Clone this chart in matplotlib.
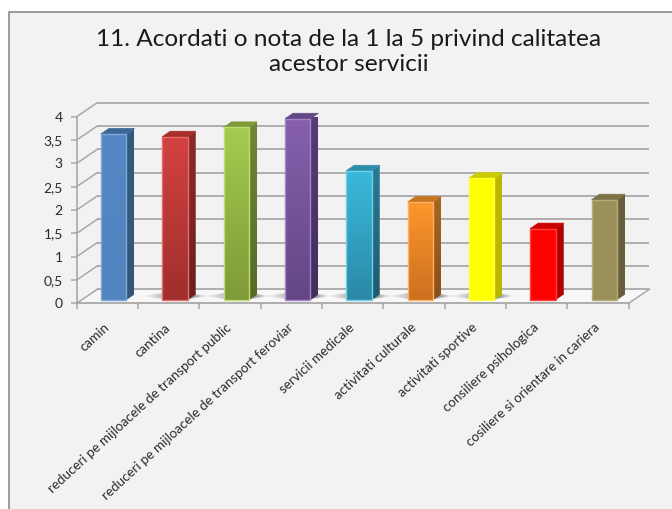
import numpy as np
import matplotlib
matplotlib.use("Agg")
import matplotlib.pyplot as plt
from matplotlib.colors import LinearSegmentedColormap
from matplotlib.patches import Polygon, Rectangle
from matplotlib.transforms import Affine2D

categories = ["camin", "cantina", "reduceri pe mijloacele de transport public",
              "reduceri pe mijloacele de transport feroviar", "servicii medicale",
              "activitati culturale", "activitati sportive", "consiliere psihologica",
              "cosiliere si orientare in cariera"]
values = [3.56, 3.50, 3.70, 3.885, 2.77, 2.10, 2.61, 1.53, 2.15]
y_ticks = [0, 0.5, 1, 1.5, 2, 2.5, 3, 3.5, 4]
y_labels = ["0", "0,5", "1", "1,5", "2", "2,5", "3", "3,5", "4"]
title = "11. Acordati o nota de la 1 la 5 privind calitatea\nacestor servicii"

front_top = ["#5687c4", "#d34241", "#a4cb4e", "#8660ad", "#3bb9dc", "#fc972d", "#ffff00", "#ff0000", "#9a9059"]
front_bot = ["#5283bf", "#9f2f2d", "#7f9a38", "#644685", "#2b89a6", "#cd7020", "#ffff00", "#ff0000", "#9a9059"]
side_top = ["#35597f", "#8c2b29", "#6f8736", "#563d76", "#287b95", "#a96520", "#b8b800", "#b30000", "#665f3c"]
side_bot = ["#345678", "#6c1f1d", "#566a26", "#422e5e", "#1f5b70", "#8a5016", "#b8b800", "#b30000", "#665f3c"]
top_col = ["#3d6796", "#a62f2d", "#7f9a38", "#644785", "#2d8ea9", "#c8731f", "#cccc00", "#cc0000", "#7b7347"]
edge_col = ["#7ea6d8", "#e46c6a", "#bddc73", "#a584c8", "#6fd0e8", "#ffb066", "#ffff40", "#ff4040", "#b5ac78"]
has_shadow = [False, True, True, True, True, True, True, False, False]

W, H = 672, 509
bg = "#f2f2f2"
grid = "#a8a8a8"
plt.rcParams["font.family"] = ["Lato", "DejaVu Sans"]

fig = plt.figure(figsize=(W / 100, H / 100), dpi=100, facecolor="white")
# panel
fig.add_artist(Rectangle((8.5 / W, -0.02), 1.02, 1.02 - 12.5 / H, transform=fig.transFigure,
                         facecolor=bg, edgecolor="#8c8c8c", linewidth=1.2, zorder=-1))

L, R, T, B = 76.7, 628.7, 116.7, 303.3
ax = fig.add_axes([L / W, 1 - B / H, (R - L) / W, (B - T) / H])
ax.patch.set_visible(False)
ax.set_xlim(-0.5, 8.5)
ax.set_ylim(0, 4)
for s in ("top", "right", "left"):
    ax.spines[s].set_visible(False)
ax.spines["bottom"].set_color(grid)
ax.spines["bottom"].set_linewidth(1.3)

px_x = (R - L) / 9
px_y = (B - T) / 4
back = ax.transData + Affine2D().translate(20.5, 14)
front = ax.transData + Affine2D().translate(6.3, 3.3)
wall_dx, wall_dy = 20.5 / px_x, 14 / px_y

# floor
ax.add_patch(Polygon([(-0.5, 0), (8.5, 0), (8.5 + wall_dx, wall_dy), (-0.5 + wall_dx, wall_dy)],
                     closed=True, facecolor="#f7f7f7", edgecolor="none", zorder=0.5, clip_on=False))
# walls
for t in y_ticks:
    ax.plot([-0.5, 8.5], [t, t], transform=back, color=grid, lw=1.3, zorder=1, clip_on=False,
            solid_capstyle="butt")
    ax.plot([-0.5, -0.5 + wall_dx], [t, t + wall_dy], color=grid, lw=1.1, zorder=1, clip_on=False)
ax.plot([8.5, 8.5 + wall_dx], [0, wall_dy], color=grid, lw=1.1, zorder=1, clip_on=False)
ax.plot([-0.5, -0.5], [0, 4], color=grid, lw=1.2, zorder=1, clip_on=False)

# bars
w = 25.5 / px_x
dx, dy = 8 / px_x, 5.5 / px_y
half_px = 12.75
shadow_len = 20.0
xs_px = np.linspace(-half_px - shadow_len, half_px + shadow_len, 200)
ys_n = np.linspace(-1, 1, 21)
dist = np.clip(np.abs(xs_px) - half_px, 0, None)
fade = np.clip(1 - dist / shadow_len, 0, 1)
gain = np.where(xs_px > 0, 0.85, 0.35)
alpha = (np.abs(ys_n)[:, None] < fade[None, :]).astype(float) * fade * gain
shadow = np.zeros((21, 200, 4))
shadow[..., :3] = 0.4
shadow[..., 3] = alpha
for i, v in enumerate(values):
    if has_shadow[i]:
        half = (half_px + shadow_len) / px_x
        ax.imshow(shadow, extent=(i - half, i + half, 0.03, 0.15), aspect="auto",
                  transform=front, zorder=1.5, clip_on=False, interpolation="bilinear")
    # front face
    cmap = LinearSegmentedColormap.from_list("f", [front_bot[i], front_top[i]])
    ax.imshow(np.linspace(1, 0, 64)[:, None], extent=(i - w / 2, i + w / 2, 0, v), aspect="auto",
              cmap=cmap, vmin=0, vmax=1, transform=front, zorder=3, clip_on=False)
    ax.bar(i, v, width=w, facecolor="none", edgecolor=edge_col[i], linewidth=1.0,
           transform=front, zorder=3.2, clip_on=False)
    # side face
    cmap_s = LinearSegmentedColormap.from_list("s", [side_bot[i], side_top[i]])
    im = ax.imshow(np.linspace(1, 0, 64)[:, None], extent=(i + w / 2, i + w / 2 + dx, 0, v + dy),
                   aspect="auto", cmap=cmap_s, vmin=0, vmax=1, transform=front, zorder=2.9)
    side = Polygon([(i + w / 2, 0), (i + w / 2 + dx, dy), (i + w / 2 + dx, v + dy), (i + w / 2, v)],
                   closed=True, facecolor="none", edgecolor="none", transform=front)
    ax.add_patch(side)
    im.set_clip_path(side)
    # top face
    ax.add_patch(Polygon([(i - w / 2, v), (i + w / 2, v), (i + w / 2 + dx, v + dy), (i - w / 2 + dx, v + dy)],
                         closed=True, facecolor=top_col[i], edgecolor=top_col[i], linewidth=0.5,
                         transform=front, zorder=3.1, clip_on=False))

ax.set_xlim(-0.5, 8.5)
ax.set_ylim(0, 4)
ax.set_yticks(y_ticks, y_labels)
ax.set_xticks(np.arange(9), categories, rotation=42.5, ha="right", va="center", rotation_mode="anchor")
ax.set_xticks(np.arange(10) - 0.5, minor=True)
ax.tick_params(axis="x", which="major", length=0, pad=16, labelsize=9.6, labelcolor="#2a2a2a")
ax.tick_params(axis="x", which="minor", length=4, width=1.1, color=grid)
ax.tick_params(axis="y", length=4, width=1.1, color=grid, pad=6, labelsize=10, labelcolor="#2a2a2a")

fig.text(348.5 / W, 1 - 52 / H, title, ha="center", va="center", fontsize=17.6, color="#1a1a1a",
         linespacing=1.2)

fig.savefig("out.png", dpi=100, facecolor="white")
